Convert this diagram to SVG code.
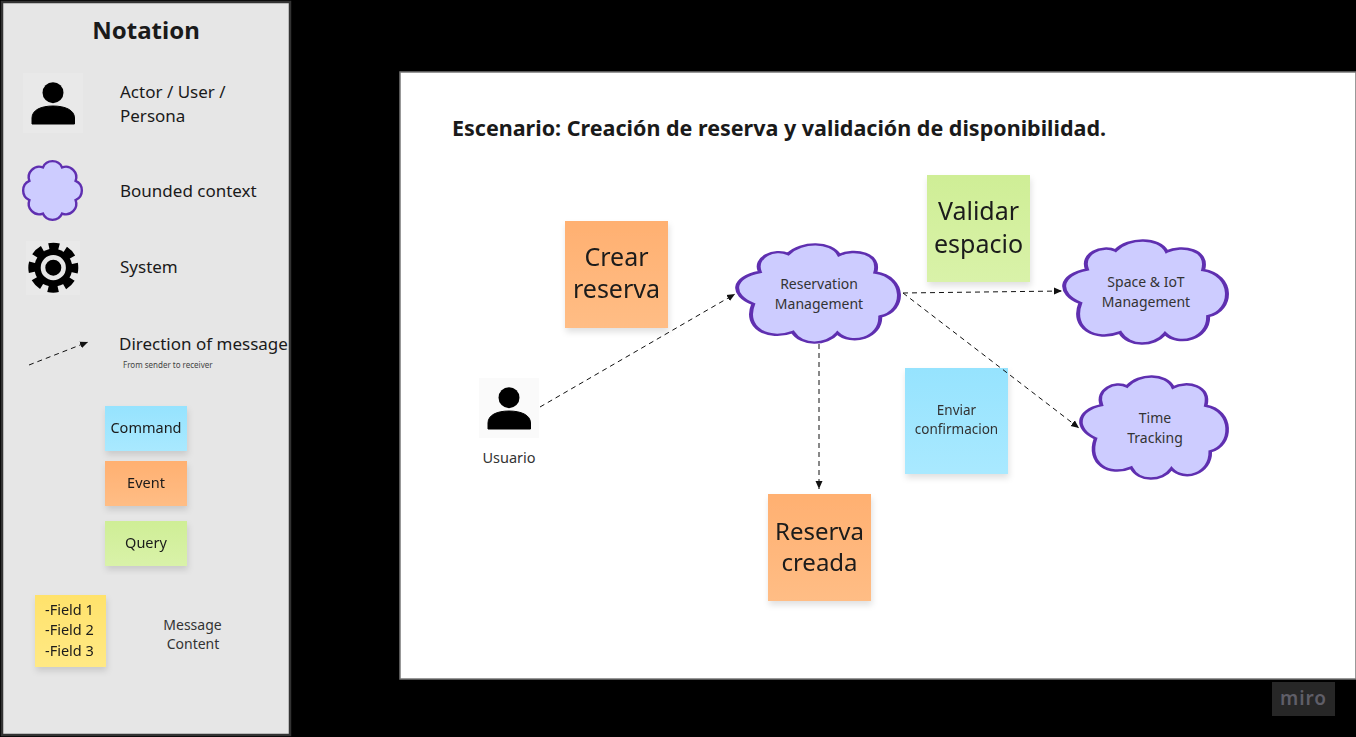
<svg xmlns="http://www.w3.org/2000/svg" width="1356" height="737" viewBox="0 0 1356 737">
<style>
text{font-family:"Noto Sans","Open Sans",sans-serif;fill:#1a1a1a}
.m{text-anchor:middle}
.c{fill:#cdccff;stroke:#5f2fb0;stroke-width:2.4;vector-effect:non-scaling-stroke}
.cs{fill:#cdccff;stroke:#5f2fb0;stroke-width:2.4}
.l{fill:none;stroke:#111;stroke-width:1;stroke-dasharray:5 4;marker-end:url(#a)}
.s{filter:url(#sh)}
</style>
<defs>
<marker id="a" markerUnits="userSpaceOnUse" markerWidth="10" markerHeight="8" refX="8" refY="4" orient="auto"><path d="M0,0.500L8,4L0,7.500z" fill="#111"/></marker>
<filter id="sh" x="-20%" y="-20%" width="140%" height="140%"><feDropShadow dx="1" dy="4" stdDeviation="3" flood-color="#000" flood-opacity=".12"/></filter>
<linearGradient id="bl" x1="0" y1="0" x2="0" y2="1"><stop offset="0" stop-color="#96e3fe"/><stop offset="1" stop-color="#a9e9ff"/></linearGradient>
<linearGradient id="or" x1="0" y1="0" x2="0" y2="1"><stop offset="0" stop-color="#ffb071"/><stop offset="1" stop-color="#ffbd85"/></linearGradient>
<linearGradient id="gr" x1="0" y1="0" x2="0" y2="1"><stop offset="0" stop-color="#cfee96"/><stop offset="1" stop-color="#d9f2a9"/></linearGradient>
<linearGradient id="ye" x1="0" y1="0" x2="0" y2="1"><stop offset="0" stop-color="#ffe26b"/><stop offset="1" stop-color="#ffe985"/></linearGradient>
<path id="cl" d="M11,61C-3,52 -2,34 15,29C11,14 24,5 32,11C40,-2 58,-2 62.700,12C72,5 88,10 84.500,29.500C103,34 103,68 87.500,73.500C88,95 70,103 61.700,90C55,103 40,103 34.800,89C20,98 5,85 11,61Z"/>
<g id="person"><circle cx="30" cy="19.700" r="10.500" fill="#000"/><path d="M9,51V45C9,37 18,33 30,33C42,33 51.500,37 51.500,45V51Z" fill="#000" stroke="#000" stroke-linejoin="round" stroke-width="1"/></g>
</defs>
<rect width="1356" height="737" fill="#000"/>
<rect id="panel" x="2" y="2" width="288" height="733" fill="#e6e6e6" stroke="#333" stroke-width="2.500"/>
<rect id="frame" x="400" y="72" width="956" height="607" fill="#fff" stroke="#777" stroke-width="1.500"/>
<g id="miro"><rect x="1272" y="682" width="63" height="34" fill="#272727"/><text x="1303.500" y="705" class="m" font-size="19" letter-spacing="1" style="fill:#5f5e68;font-weight:600">miro</text></g>

<g id="notation-title"><text x="146" y="39" class="m" font-size="24" font-weight="700">Notation</text></g>
<g id="legend-actor"><rect x="23" y="73" width="60" height="60" fill="#e9e9e9"/><use href="#person" x="23" y="73"/><text x="120" y="98" font-size="17">Actor / User /</text><text x="120" y="122" font-size="17">Persona</text></g>
<g id="legend-context"><path class="cs" d="M62.100,167.400A10.500,10.500 0 0 1 75.600,180.900A10.500,10.500 0 0 1 75.600,200.100A10.500,10.500 0 0 1 62.100,213.600A10.500,10.500 0 0 1 42.900,213.600A10.500,10.500 0 0 1 29.400,200.100A10.500,10.500 0 0 1 29.400,180.900A10.500,10.500 0 0 1 42.900,167.400A10.500,10.500 0 0 1 62.100,167.400Z"/><text x="120" y="197" font-size="17">Bounded context</text></g>
<g id="legend-system"><rect x="26" y="241" width="54" height="54" fill="#e9e9e9"/><circle cx="53.300" cy="267.700" r="19" fill="#000"/><circle cx="53.300" cy="267.700" r="21" fill="none" stroke="#000" stroke-width="8" stroke-dasharray="10 6.490" stroke-dashoffset="5"/><circle cx="53.300" cy="267.700" r="10.300" fill="none" stroke="#e6e6e6" stroke-width="4.600"/><text x="120" y="273" font-size="17">System</text></g>
<g id="legend-direction"><text x="119" y="350" font-size="17">Direction of message</text><text x="123" y="368" font-size="8" style="fill:#444">From sender to receiver</text></g>
<g id="legend-command" class="s"><rect x="105" y="406" width="82" height="45" fill="url(#bl)"/><text x="146" y="433" class="m" font-size="14.500">Command</text></g>
<g id="legend-event" class="s"><rect x="105" y="461" width="82" height="45" fill="url(#or)"/><text x="146" y="488" class="m" font-size="14.500">Event</text></g>
<g id="legend-query" class="s"><rect x="105" y="521" width="82" height="45" fill="url(#gr)"/><text x="146" y="548" class="m" font-size="14.500">Query</text></g>
<g id="legend-fields" class="s"><rect x="35" y="595" width="71" height="72" fill="url(#ye)"/><text x="45" y="615" font-size="14.500">-Field 1</text><text x="45" y="635" font-size="14.500">-Field 2</text><text x="45" y="656" font-size="14.500">-Field 3</text></g>
<g id="legend-content"><text x="192.500" y="630" class="m" font-size="14" style="fill:#333">Message</text><text x="193" y="649" class="m" font-size="14" style="fill:#333">Content</text></g>

<g id="title"><text x="452" y="136" font-size="21.500" font-weight="700">Escenario: Creación de reserva y validación de disponibilidad.</text></g>
<g id="usuario"><rect x="479" y="378" width="60" height="60" fill="#fafafa"/><use href="#person" x="479" y="378"/><text x="509" y="463" class="m" font-size="14.500" style="fill:#333">Usuario</text></g>
<g id="crear-reserva" class="s"><rect x="565" y="221" width="103" height="107" fill="url(#or)"/><text x="616.500" y="266" class="m" font-size="25">Crear</text><text x="616.500" y="298" class="m" font-size="25">reserva</text></g>
<g id="validar-espacio" class="s"><rect x="927" y="175" width="103" height="107" fill="url(#gr)"/><text x="978.500" y="220" class="m" font-size="25">Validar</text><text x="978.500" y="253" class="m" font-size="25">espacio</text></g>
<g id="enviar-confirmacion" class="s"><rect x="905" y="368" width="103" height="106" fill="url(#bl)"/><text x="956.500" y="415" class="m" font-size="13.500" style="fill:#333">Enviar</text><text x="956.500" y="434" class="m" font-size="13.500" style="fill:#333">confirmacion</text></g>
<g id="reserva-creada" class="s"><rect x="768" y="494" width="103" height="107" fill="url(#or)"/><text x="819.500" y="540" class="m" font-size="24">Reserva</text><text x="819.500" y="571" class="m" font-size="24">creada</text></g>
<g id="reservation-management"><use href="#cl" class="c" transform="translate(735,243) scale(1.660,1)"/><text x="819" y="289" class="m" font-size="14" style="fill:#333">Reservation</text><text x="819" y="309" class="m" font-size="14" style="fill:#333">Management</text></g>
<g id="space-iot"><use href="#cl" class="c" transform="translate(1062,239) scale(1.670,1.050)"/><text x="1146" y="287" class="m" font-size="14" style="fill:#333">Space &amp; IoT</text><text x="1146" y="307" class="m" font-size="14" style="fill:#333">Management</text></g>
<g id="time-tracking"><use href="#cl" class="c" transform="translate(1079,375) scale(1.500,1.040)"/><text x="1155" y="423" class="m" font-size="14" style="fill:#333">Time</text><text x="1155" y="443" class="m" font-size="14" style="fill:#333">Tracking</text></g>

<g id="connectors">
<path class="l" d="M29,365L88,342"/>
<path class="l" d="M540,407L735,294"/>
<path class="l" d="M903,293L1062,291"/>
<path class="l" d="M903,293L1079,428"/>
<path class="l" d="M819,344V489"/>
</g>
</svg>
